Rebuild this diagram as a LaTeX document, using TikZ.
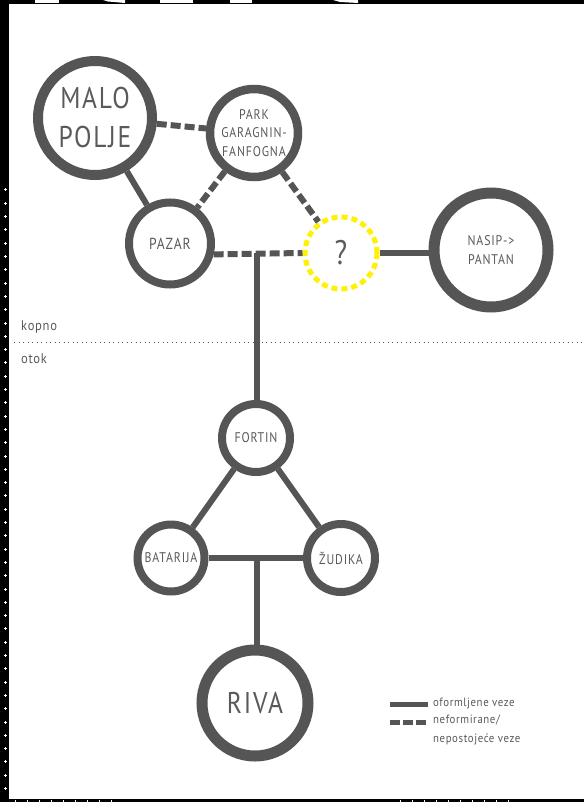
\documentclass[tikz,border=0pt]{standalone}
\usepackage{fontspec}
\setmainfont{PT Sans}
\newfontfamily\dinfont{PT Sans}[FakeStretch=0.85,LetterSpace=6]
\newfontfamily\legfont{PT Sans}[FakeStretch=0.9,LetterSpace=5]
\usetikzlibrary{calc}
\definecolor{gc}{HTML}{555555}
\definecolor{tc}{HTML}{5A5A5A}
\definecolor{qy}{HTML}{FFF200}
\tikzset{
  place/.style={circle, draw=gc, text=tc, align=center, inner sep=0pt, font=\dinfont},
  solidlink/.style={draw=gc, line width=6pt},
  dashlink/.style={draw=gc, line width=6pt, dash pattern=on 10pt off 4pt},
}
\begin{document}
\begin{tikzpicture}[x=1pt,y=-1pt]
\useasboundingbox (0,0) rectangle (584,802);
\fill[white] (0,0) rectangle (584,802);
% frame
\fill[black] (0,0) rectangle (584,4);
\fill[black] (0,0) rectangle (9,802);
\fill[black] (0,798.5) rectangle (584,802);
\foreach \a/\b in {35/59,160/193,230/252}{\fill[white] (\a,0) rectangle (\b,3.5);}
\fill[white] (103,0) -- (125,0) -- (125,3) -- (108,1.5) -- cycle;
\fill[white] (333,0) -- (358,0) -- (358,3) -- (340,2) -- cycle;
\foreach \k in {0,...,45}{
  \fill[white] (3.5,{189.5+13.3*\k}) rectangle (6.5,{190.5+13.3*\k});
  \fill[white] (4.5,{188.5+13.3*\k}) rectangle (5.5,{191.5+13.3*\k});
}
\foreach \x in {15,27,...,115}{\fill[white] (\x,800) rectangle (\x+1,802);}
\foreach \x in {400,412,...,515}{\fill[white] (\x,800) rectangle (\x+1,802);}
% land / island divide
\draw[gc, line width=1pt, dash pattern=on 1pt off 3.5pt] (14,342) -- (584,342);
\node[anchor=west, text=tc, font=\legfont\fontsize{14}{16}\selectfont, inner sep=0pt] (kopno) at (21,327) {kopno};
\node[anchor=west, text=tc, font=\legfont\fontsize{14}{16}\selectfont, inner sep=0pt] (otok) at (21,359) {otok};
% nodes
\node[place, line width=10pt, minimum size=114pt, font=\dinfont\fontsize{30}{39}\selectfont] (malo) at (95,118) {MALO\\POLJE};
\node[place, line width=8.5pt, minimum size=88pt, font=\dinfont\fontsize{14}{18.5}\selectfont] (park) at (254,133) {PARK\\GARAGNIN-\\FANFOGNA};
\node[place, line width=8pt, minimum size=82pt, font=\dinfont\fontsize{16}{18}\selectfont] (pazar) at (170,243.5) {PAZAR};
\node[place, draw=qy, line width=5pt, dash pattern=on 6pt off 4pt, minimum size=72pt, font=\dinfont\fontsize{34}{36}\selectfont] (q) at (341,253) {?};
\node[place, line width=11pt, minimum size=114pt, font=\dinfont\fontsize{14}{19}\selectfont] (nasip) at (491,250) {NASIP->\\PANTAN};
\node[place, line width=8pt, minimum size=68pt, font=\dinfont\fontsize{14}{16}\selectfont] (fortin) at (256,438) {FORTIN};
\node[place, line width=8pt, minimum size=67pt, font=\dinfont\fontsize{14}{16}\selectfont] (batarija) at (171,558) {BATARIJA};
\node[place, line width=8pt, minimum size=68pt, font=\dinfont\fontsize{14}{16}\selectfont] (zudika) at (341,558) {ŽUDIKA};
\node[place, line width=11pt, minimum size=106pt, font=\dinfont\fontsize{30}{34}\selectfont] (riva) at (255,703) {RIVA};
% junctions
\coordinate (j1) at (257,253);
\coordinate (j2) at (257,558);
% connectors
\draw[solidlink] (malo) -- (pazar);
\draw[dashlink] (malo) -- (park);
\draw[dashlink] (park) -- (pazar);
\draw[dashlink] (park) -- (q);
\draw[dashlink] (pazar.-14) -- (q.west);
\draw[solidlink] (j1) -- (j1 |- fortin.north);
\draw[solidlink] (q.east) -- (q.east -| nasip.west);
\draw[solidlink] (fortin) -- (batarija);
\draw[solidlink] (fortin) -- (zudika);
\draw[solidlink] (batarija) -- (zudika);
\draw[solidlink] (j2) -- (j2 |- riva.north);
% legend
\coordinate (l1a) at (390,704);
\coordinate (l1b) at (428,704);
\coordinate (l2a) at (390,722);
\coordinate (l2b) at (428,722);
\draw[solidlink, line width=5pt] (l1a) -- (l1b);
\draw[dashlink, line width=5pt, dash pattern=on 10pt off 3pt] (l2a) -- (l2b);
\node[anchor=west, text=tc, font=\legfont\fontsize{12}{18.5}\selectfont, inner sep=0pt, align=left] (leg1) at (433,704) {oformljene veze};
\node[anchor=north west, text=tc, font=\legfont\fontsize{12}{18.5}\selectfont, inner sep=0pt, align=left] (leg2) at (433,715) {neformirane/\\nepostojeće veze};
\end{tikzpicture}
\end{document}
